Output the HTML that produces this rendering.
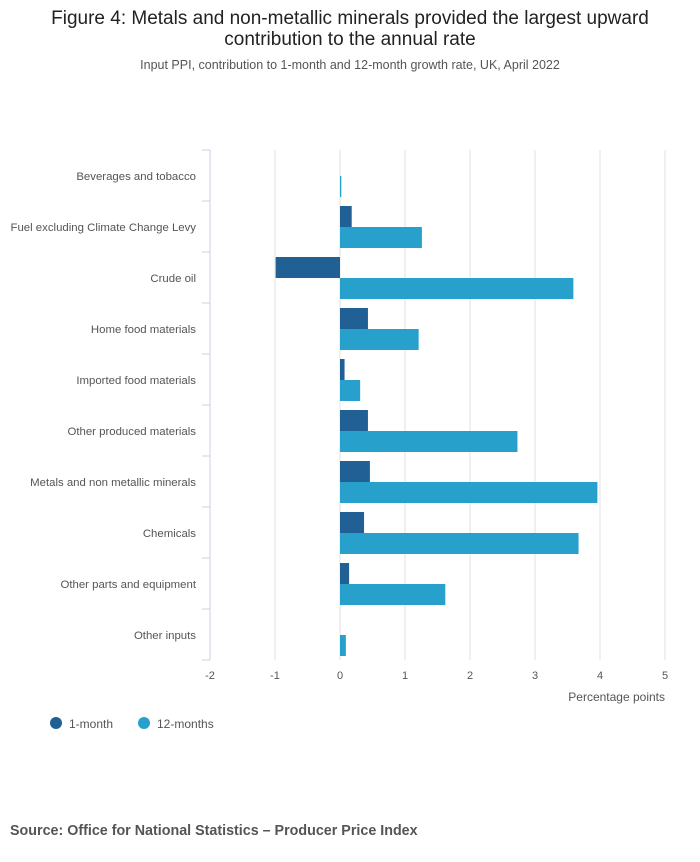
<!DOCTYPE html>
<html><head><meta charset="utf-8"><style>
body{margin:0;background:#fff;font-family:"Liberation Sans",sans-serif;}
#wrap{position:relative;width:700px;height:857px;}
</style></head><body>
<div id="wrap">
<svg id="c" width="700" height="857" xmlns="http://www.w3.org/2000/svg">
<text x="350" y="24" text-anchor="middle" font-size="19" fill="#222">Figure 4: Metals and non-metallic minerals provided the largest upward</text>
<text x="350" y="45" text-anchor="middle" font-size="19" fill="#222">contribution to the annual rate</text>
<text x="350" y="69" text-anchor="middle" font-size="12.5" fill="#555">Input PPI, contribution to 1-month and 12-month growth rate, UK, April 2022</text>
<g id="grid"></g><g id="bars"></g><g id="labels"></g>
<text x="665" y="701" text-anchor="end" font-size="12" fill="#555">Percentage points</text>
<circle cx="56" cy="723" r="6" fill="#206095"/>
<text x="69" y="728" font-size="12" fill="#555">1-month</text>
<circle cx="144" cy="723" r="6" fill="#27a0cc"/>
<text x="157" y="728" font-size="12" fill="#555">12-months</text>
<text x="10" y="835" font-size="14.3" font-weight="bold" fill="#555">Source: Office for National Statistics – Producer Price Index</text>
</svg></div>
<script>
const categories=["Beverages and tobacco","Fuel excluding Climate Change Levy","Crude oil","Home food materials","Imported food materials","Other produced materials","Metals and non metallic minerals","Chemicals","Other parts and equipment","Other inputs"];
const oneMonth=[0,0.18,-0.99,0.43,0.07,0.43,0.46,0.37,0.14,0];
const twelveMonths=[0.02,1.26,3.59,1.21,0.31,2.73,3.96,3.67,1.62,0.09];
const xTicks=[-2,-1,0,1,2,3,4,5];
const NS="http://www.w3.org/2000/svg";
const x=v=>340+v*65;
const bandTop=i=>150+i*51;
function mk(t,a,p){const e=document.createElementNS(NS,t);for(const k in a)e.setAttribute(k,a[k]);document.getElementById(p).appendChild(e);return e;}
xTicks.forEach(t=>{
 const l=mk('line',{x1:x(t),x2:x(t),y1:150,y2:660,stroke:t===-2?'#c8d0e8':'#e2e2e2','stroke-width':1},'grid');
 
 
 const tx=mk('text',{x:x(t),y:679,'text-anchor':'middle','font-size':11,fill:'#555'},'grid');
 tx.textContent=t;
 
 
});
for(let i=0;i<=categories.length;i++){
 const l=mk('line',{x1:202,x2:210,y1:bandTop(i),y2:bandTop(i),stroke:'#c8d0e8'},'grid');
 
 
}
categories.forEach((c,i)=>{
 const t=mk('text',{x:196,y:bandTop(i)+30,'text-anchor':'end','font-size':11.4,fill:'#555'},'labels');
 t.textContent=c;
 
 
 const v1=oneMonth[i],v2=twelveMonths[i];
 const b1=mk('rect',{x:Math.min(x(0),x(v1)),y:bandTop(i)+5,width:Math.abs(x(v1)-x(0)),height:21,fill:'#206095'},'bars');
 
 
 const b2=mk('rect',{x:Math.min(x(0),x(v2)),y:bandTop(i)+26,width:Math.abs(x(v2)-x(0)),height:21,fill:'#27a0cc'},'bars');
 
 
});
</script>
</body></html>
